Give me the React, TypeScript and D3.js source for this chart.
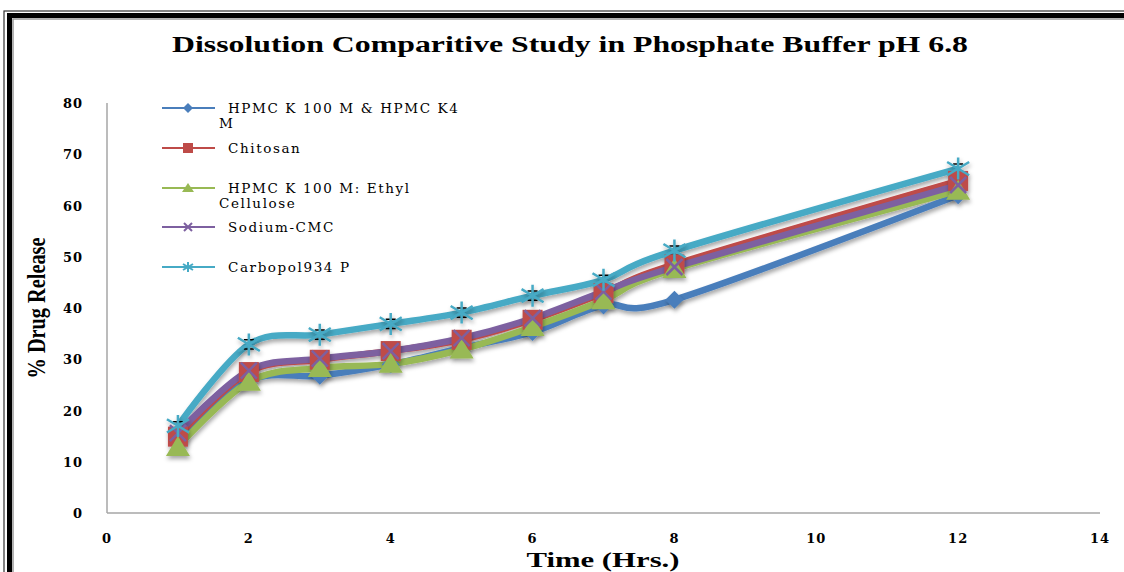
import React from "react";
import * as d3 from "d3";

// Sampling times (hours) and cumulative % drug release for each formulation
const times = [1, 2, 3, 4, 5, 6, 7, 8, 12];
const hpmcK100K4 = [14.0, 25.8, 26.8, 29.0, 32.2, 35.3, 40.5, 41.6, 62.0];
const chitosan = [14.9, 27.5, 29.9, 31.6, 33.8, 37.7, 42.9, 48.5, 64.8];
const hpmcEthylCellulose = [12.9, 25.6, 28.3, 29.1, 31.9, 36.3, 41.5, 47.6, 62.9];
const sodiumCmc = [15.6, 27.8, 30.1, 31.6, 34.1, 38.0, 43.2, 48.0, 64.0];
const carbopol = [17.0, 32.9, 34.8, 36.9, 39.1, 42.4, 45.5, 51.2, 67.2];
const carbopolSd = [0.8, 0.9, 0.9, 0.9, 0.9, 0.9, 0.9, 0.9, 0.9];

const xTicks = [0, 2, 4, 6, 8, 10, 12, 14];
const yTicks = [0, 10, 20, 30, 40, 50, 60, 70, 80];

const seriesNames = [
  ["HPMC K 100 M & HPMC K4", "M"],
  ["Chitosan"],
  ["HPMC K 100 M: Ethyl", "Cellulose"],
  ["Sodium-CMC"],
  ["Carbopol934 P"],
];
const seriesValues = [hpmcK100K4, chitosan, hpmcEthylCellulose, sodiumCmc, carbopol];
const seriesColors = ["#4a7ebb", "#be4b48", "#98b954", "#7d60a0", "#46aac5"];
const seriesMarkers = ["diamond", "square", "triangle", "x", "star"];

const W = 1124;
const H = 572;
const x = d3.scaleLinear().domain([0, 14]).range([107, 1100]);
const y = d3.scaleLinear().domain([0, 80]).range([513, 103]);

const line = d3
  .line<[number, number]>()
  .x((d) => x(d[0]))
  .y((d) => y(d[1]))
  .curve(d3.curveCatmullRom.alpha(0));

function Marker({ kind, cx, cy, color }: { kind: string; cx: number; cy: number; color: string }) {
  if (kind === "diamond") {
    const s = 9;
    return (
      <path
        d={`M${cx},${cy - s}L${cx + s},${cy}L${cx},${cy + s}L${cx - s},${cy}Z`}
        fill={color}
      />
    );
  }
  if (kind === "square") {
    const s = 10;
    return <rect x={cx - s} y={cy - s} width={2 * s} height={2 * s} fill={color} />;
  }
  if (kind === "triangle") {
    const w = 12;
    return (
      <path d={`M${cx},${cy - 11}L${cx + w},${cy + 9}L${cx - w},${cy + 9}Z`} fill={color} />
    );
  }
  if (kind === "x") {
    const s = 8;
    return (
      <path
        d={`M${cx - s},${cy - s}L${cx + s},${cy + s}M${cx - s},${cy + s}L${cx + s},${cy - s}`}
        stroke={color}
        strokeWidth={2.5}
      />
    );
  }
  const s = 11;
  return (
    <path
      d={`M${cx - s},${cy - s * 0.6}L${cx + s},${cy + s * 0.6}M${cx - s},${cy + s * 0.6}L${cx + s},${cy - s * 0.6}M${cx},${cy - s}L${cx},${cy + s}`}
      stroke={color}
      strokeWidth={2.5}
    />
  );
}

function LegendMarker({ kind, cx, cy, color }: { kind: string; cx: number; cy: number; color: string }) {
  if (kind === "diamond") {
    const s = 5;
    return <path d={`M${cx},${cy - s}L${cx + s},${cy}L${cx},${cy + s}L${cx - s},${cy}Z`} fill={color} />;
  }
  if (kind === "square") {
    return <rect x={cx - 5} y={cy - 5} width={10} height={10} fill={color} />;
  }
  if (kind === "triangle") {
    return <path d={`M${cx},${cy - 5}L${cx + 6},${cy + 4}L${cx - 6},${cy + 4}Z`} fill={color} />;
  }
  if (kind === "x") {
    return (
      <path
        d={`M${cx - 4},${cy - 4}L${cx + 4},${cy + 4}M${cx - 4},${cy + 4}L${cx + 4},${cy - 4}`}
        stroke={color}
        strokeWidth={2}
      />
    );
  }
  return (
    <path
      d={`M${cx - 5},${cy - 3}L${cx + 5},${cy + 3}M${cx - 5},${cy + 3}L${cx + 5},${cy - 3}M${cx},${cy - 5}L${cx},${cy + 5}`}
      stroke={color}
      strokeWidth={2}
    />
  );
}

export default function App() {
  const legendRows = [108, 148, 188, 227, 267];
  const tickFont = "'DejaVu Serif', serif";
  return (
    <svg
      width={W}
      height={H}
      style={{ position: "absolute", left: 0, top: 0, background: "#fff" }}
    >
      <defs>
        <filter id="shadow" x="-20%" y="-20%" width="140%" height="140%">
          <feDropShadow dx="1" dy="3" stdDeviation="2" floodColor="#000" floodOpacity="0.35" />
        </filter>
      </defs>

      {/* outer frame */}
      <rect x={4} y={11} width={W + 20} height={H + 20} fill="none" stroke="#333" strokeWidth={1.2} />
      <rect x={9.5} y={15.5} width={W + 20} height={H + 20} fill="none" stroke="#000" strokeWidth={5} />
      <rect x={13} y={19} width={W + 20} height={H + 20} fill="none" stroke="#999" strokeWidth={1.5} />

      {/* title */}
      <text
        x={570}
        y={52}
        textAnchor="middle"
        fontFamily="'Liberation Serif', serif"
        fontWeight="bold"
        fontSize={24}
        textLength={796}
        lengthAdjust="spacingAndGlyphs"
      >
        Dissolution Comparitive Study in Phosphate Buffer pH 6.8
      </text>

      {/* axes */}
      <line x1={x(0)} x2={x(0)} y1={y(80)} y2={y(0)} stroke="#a6a6a6" strokeWidth={1.5} />
      <line x1={x(0)} x2={x(14)} y1={y(0)} y2={y(0)} stroke="#a6a6a6" strokeWidth={1.5} />

      {yTicks.map((t) => (
        <text
          key={`y${t}`}
          x={83}
          y={y(t) + 5}
          textAnchor="end"
          fontFamily={tickFont}
          fontWeight="bold"
          fontSize={13}
          letterSpacing={1}
        >
          {t}
        </text>
      ))}
      {xTicks.map((t) => (
        <text
          key={`x${t}`}
          x={x(t)}
          y={543}
          textAnchor="middle"
          fontFamily={tickFont}
          fontWeight="bold"
          fontSize={13}
          letterSpacing={1}
        >
          {t}
        </text>
      ))}

      {/* axis titles */}
      <text
        transform="translate(45,308) rotate(-90)"
        textAnchor="middle"
        fontFamily="'Liberation Serif', serif"
        fontWeight="bold"
        fontSize={25}
        textLength={141}
        lengthAdjust="spacingAndGlyphs"
      >
        % Drug Release
      </text>
      <text
        x={603}
        y={567}
        textAnchor="middle"
        fontFamily="'Liberation Serif', serif"
        fontWeight="bold"
        fontSize={22}
        textLength={153}
        lengthAdjust="spacingAndGlyphs"
      >
        Time (Hrs.)
      </text>

      {/* series lines */}
      <g filter="url(#shadow)">
        {seriesValues.map((vals, i) => (
          <path
            key={`l${i}`}
            d={line(times.map((t, j) => [t, vals[j]] as [number, number])) || ""}
            fill="none"
            stroke={seriesColors[i]}
            strokeWidth={6.5}
            strokeLinejoin="round"
          />
        ))}
      </g>

      {/* error bars */}
      {times.map((t, j) => (
        <path
          key={`e${j}`}
          d={`M${x(t) - 5},${y(carbopol[j] + carbopolSd[j])}H${x(t) + 5}M${x(t)},${y(
            carbopol[j] + carbopolSd[j]
          )}V${y(carbopol[j] - carbopolSd[j])}M${x(t) - 5},${y(carbopol[j] - carbopolSd[j])}H${x(t) + 5}`}
          stroke="#000"
          strokeWidth={1.5}
          fill="none"
        />
      ))}

      {/* markers */}
      <g filter="url(#shadow)">
        {seriesValues.map((vals, i) =>
          times.map((t, j) => (
            <Marker
              key={`m${i}-${j}`}
              kind={seriesMarkers[i]}
              cx={x(t)}
              cy={y(vals[j])}
              color={seriesColors[i]}
            />
          ))
        )}
      </g>

      {/* legend */}
      {seriesNames.map((lines, i) => (
        <g key={`lg${i}`}>
          <line
            x1={162}
            x2={215}
            y1={legendRows[i]}
            y2={legendRows[i]}
            stroke={seriesColors[i]}
            strokeWidth={2}
          />
          <LegendMarker kind={seriesMarkers[i]} cx={188} cy={legendRows[i]} color={seriesColors[i]} />
          {lines.map((s, k) => (
            <text
              key={k}
              x={k === 0 ? 228 : 219}
              y={legendRows[i] + 5 + k * 15}
              fontFamily={tickFont}
              fontSize={13.5}
              letterSpacing={1.6}
            >
              {s}
            </text>
          ))}
        </g>
      ))}
    </svg>
  );
}
